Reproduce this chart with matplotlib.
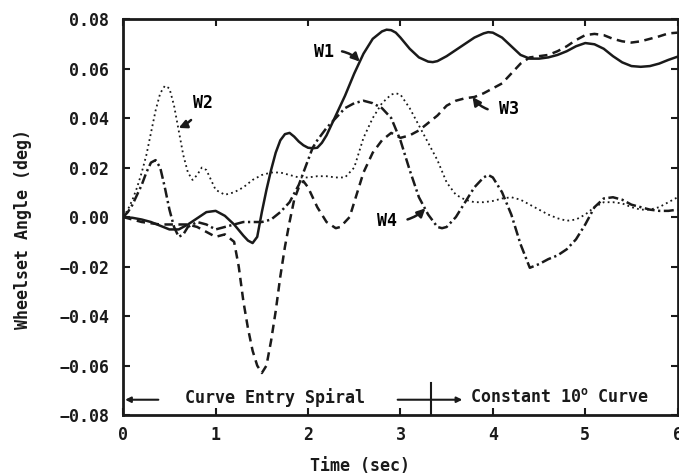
import numpy as np
import matplotlib
matplotlib.use("Agg")
import matplotlib.pyplot as plt

plt.rcParams['font.family'] = ['DejaVu Sans Mono']
plt.rcParams['font.weight'] = 'bold'
plt.rcParams['axes.labelweight'] = 'bold'
plt.rcParams['mathtext.fontset'] = 'custom'
plt.rcParams['mathtext.rm'] = 'DejaVu Sans Mono:bold'

# ---- data (time in sec, angle in deg) ----
t_w1 = [0, 0.1, 0.2, 0.3, 0.4, 0.5, 0.6, 0.7, 0.8, 0.9, 1.0, 1.1, 1.2, 1.3, 1.35,
        1.4, 1.45, 1.5, 1.55, 1.6, 1.65, 1.7, 1.75, 1.8, 1.85, 1.9, 1.95, 2.0, 2.05,
        2.1, 2.15, 2.2, 2.3, 2.4, 2.5, 2.6, 2.7, 2.8, 2.85, 2.9, 2.95, 3.0, 3.1, 3.2,
        3.3, 3.35, 3.4, 3.5, 3.6, 3.7, 3.8, 3.9, 3.95, 4.0, 4.1, 4.2, 4.3, 4.4, 4.5,
        4.6, 4.7, 4.8, 4.9, 5.0, 5.1, 5.2, 5.3, 5.4, 5.5, 5.6, 5.7, 5.8, 5.9, 6.0]
w1 = [0, -0.0003, -0.001, -0.002, -0.0035, -0.005, -0.005, -0.003, -0.0005, 0.002,
      0.0025, 0.0005, -0.003, -0.0075, -0.0095, -0.0105, -0.008, 0.002, 0.011, 0.019,
      0.026, 0.031, 0.0335, 0.034, 0.0325, 0.0305, 0.029, 0.028, 0.0278, 0.028, 0.030,
      0.033, 0.041, 0.049, 0.058, 0.066, 0.072, 0.075, 0.0757, 0.0755, 0.0745, 0.0725,
      0.068, 0.0645, 0.0628, 0.0626, 0.063, 0.065, 0.0675, 0.070, 0.0725, 0.0742,
      0.0747, 0.0745, 0.0725, 0.069, 0.0655, 0.064, 0.064, 0.0645, 0.0655, 0.067,
      0.069, 0.0703, 0.0698, 0.068, 0.065, 0.0625, 0.061, 0.0607, 0.061, 0.062,
      0.0635, 0.0648]

t_w2 = [0, 0.05, 0.1, 0.15, 0.2, 0.25, 0.3, 0.35, 0.4, 0.45, 0.5, 0.55, 0.6, 0.65,
        0.7, 0.75, 0.8, 0.85, 0.9, 0.95, 1.0, 1.1, 1.2, 1.3, 1.4, 1.5, 1.6, 1.7, 1.8,
        1.9, 2.0, 2.1, 2.2, 2.3, 2.4, 2.5, 2.6, 2.7, 2.8, 2.9, 2.95, 3.0, 3.1, 3.2,
        3.3, 3.4, 3.5, 3.6, 3.7, 3.8, 3.9, 4.0, 4.1, 4.2, 4.3, 4.4, 4.5, 4.6, 4.7,
        4.8, 4.9, 5.0, 5.1, 5.2, 5.3, 5.4, 5.5, 5.6, 5.7, 5.8, 5.9, 6.0]
w2 = [0, 0.003, 0.007, 0.012, 0.018, 0.025, 0.034, 0.043, 0.050, 0.053, 0.052,
      0.045, 0.035, 0.025, 0.018, 0.015, 0.017, 0.020, 0.019, 0.015, 0.011, 0.009,
      0.010, 0.012, 0.015, 0.017, 0.018, 0.018, 0.017, 0.016, 0.016, 0.0165, 0.0165,
      0.016, 0.016, 0.020, 0.032, 0.040, 0.046, 0.0495, 0.050, 0.0495, 0.044, 0.037,
      0.030, 0.023, 0.014, 0.009, 0.007, 0.006, 0.006, 0.0065, 0.0075, 0.008, 0.007,
      0.005, 0.003, 0.001, -0.0005, -0.0015, -0.001, 0.001, 0.004, 0.006, 0.006,
      0.0055, 0.004, 0.003, 0.003, 0.004, 0.006, 0.008]

t_w3 = [0, 0.1, 0.2, 0.3, 0.4, 0.5, 0.6, 0.7, 0.8, 0.9, 1.0, 1.1, 1.2, 1.25, 1.3,
        1.35, 1.4, 1.45, 1.5, 1.55, 1.6, 1.65, 1.7, 1.75, 1.8, 1.85, 1.9, 1.95, 2.0,
        2.05, 2.1, 2.2, 2.3, 2.35, 2.4, 2.45, 2.5, 2.6, 2.7, 2.8, 2.9, 3.0, 3.1, 3.2,
        3.3, 3.4, 3.5, 3.6, 3.7, 3.8, 3.9, 4.0, 4.1, 4.2, 4.3, 4.4, 4.5, 4.6, 4.7,
        4.8, 4.9, 5.0, 5.1, 5.2, 5.3, 5.4, 5.5, 5.6, 5.7, 5.8, 5.9, 6.0]
w3 = [0, -0.001, -0.002, -0.0025, -0.003, -0.003, -0.003, -0.003, -0.004, -0.006,
      -0.008, -0.007, -0.010, -0.020, -0.034, -0.045, -0.054, -0.060, -0.063, -0.060,
      -0.050, -0.038, -0.024, -0.012, -0.002, 0.007, 0.012, 0.0145, 0.012, 0.008,
      0.004, -0.002, -0.0045, -0.004, -0.002, 0.0, 0.006, 0.018, 0.026, 0.031, 0.034,
      0.032, 0.033, 0.035, 0.038, 0.041, 0.045, 0.047, 0.048, 0.0485, 0.050, 0.052,
      0.054, 0.058, 0.062, 0.0645, 0.065, 0.0655, 0.067, 0.069, 0.0715, 0.0735,
      0.074, 0.0735, 0.072, 0.071, 0.0705, 0.071, 0.072, 0.073, 0.0742, 0.0745]

t_w4 = [0, 0.05, 0.1, 0.15, 0.2, 0.25, 0.3, 0.35, 0.4, 0.45, 0.5, 0.55, 0.6, 0.65,
        0.7, 0.8, 0.9, 1.0, 1.1, 1.2, 1.3, 1.4, 1.5, 1.6, 1.7, 1.8, 1.9, 2.0, 2.05,
        2.1, 2.2, 2.3, 2.4, 2.5, 2.6, 2.7, 2.8, 2.9, 3.0, 3.1, 3.2, 3.3, 3.4, 3.45,
        3.5, 3.6, 3.7, 3.8, 3.9, 3.95, 4.0, 4.1, 4.2, 4.3, 4.4, 4.5, 4.6, 4.7, 4.8,
        4.9, 5.0, 5.1, 5.2, 5.3, 5.4, 5.5, 5.6, 5.7, 5.8, 5.9, 6.0]
w4 = [0, 0.002, 0.005, 0.009, 0.013, 0.018, 0.022, 0.023, 0.020, 0.012, 0.003,
      -0.004, -0.008, -0.007, -0.004, -0.002, -0.003, -0.005, -0.004, -0.003, -0.002,
      -0.002, -0.002, -0.001, 0.002, 0.006, 0.013, 0.023, 0.028, 0.031, 0.036, 0.040,
      0.044, 0.046, 0.047, 0.046, 0.044, 0.040, 0.031, 0.019, 0.008, 0.001, -0.004,
      -0.0045, -0.004, 0.0, 0.006, 0.012, 0.016, 0.017, 0.016, 0.010, 0.001, -0.011,
      -0.0205, -0.019, -0.017, -0.0155, -0.013, -0.009, -0.003, 0.004, 0.0075, 0.008,
      0.007, 0.005, 0.004, 0.003, 0.0025, 0.0025, 0.003]

x_ticks = [0, 1, 2, 3, 4, 5, 6]
y_ticks = [-0.08, -0.06, -0.04, -0.02, 0.00, 0.02, 0.04, 0.06, 0.08]
spiral_end = 3.33

# ---- figure ----
fig = plt.figure(figsize=(6.79, 4.76), dpi=100)
ax = fig.add_axes([0.1815, 0.128, 0.8165, 0.832])

ax.plot(t_w1, w1, color='#1a1a1a', lw=1.8, solid_joinstyle='round')
ax.plot(t_w2, w2, color='#1a1a1a', lw=1.3, linestyle=(0, (1.0, 1.8)))
ax.plot(t_w3, w3, color='#1a1a1a', lw=1.8, linestyle=(0, (3.4, 2.2)))
ax.plot(t_w4, w4, color='#1a1a1a', lw=1.8, linestyle=(0, (4.0, 1.4, 0.9, 1.4)))

ax.set_xlim(0, 6)
ax.set_ylim(-0.08, 0.08)
ax.set_xticks(x_ticks)
ax.set_yticks(y_ticks)
ax.set_yticklabels([f"{v:.2f}".replace('-', '\u2212') for v in y_ticks])
ax.tick_params(direction='in', top=True, right=True, length=5, width=1.5,
               labelsize=12, colors='#1a1a1a')
ax.tick_params(axis='x', pad=8)
ax.tick_params(axis='y', pad=10)
for s in ax.spines.values():
    s.set_linewidth(2.0)
    s.set_color('#1a1a1a')

ax.set_ylabel("Wheelset Angle (deg)", fontsize=12, color='#1a1a1a')
ax.yaxis.set_label_coords(-0.165, 0.47)
ax.set_xlabel("Time (sec)", fontsize=12, color='#1a1a1a')
ax.xaxis.set_label_coords(0.427, -0.105)

# curve labels with curved arrows
arw = dict(arrowstyle='-|>', color='#1a1a1a', lw=1.8, mutation_scale=12)
ax.annotate("W1", xy=(2.56, 0.0628), xytext=(2.17, 0.0665), fontsize=12,
            ha='center', va='center',
            arrowprops=dict(arw, connectionstyle="arc3,rad=-0.3", shrinkA=4, shrinkB=0))
ax.annotate("W2", xy=(0.6, 0.036), xytext=(0.86, 0.046), fontsize=12,
            ha='center', va='center',
            arrowprops=dict(arw, connectionstyle="arc3,rad=-0.2", shrinkA=5, shrinkB=0))
ax.annotate("W3", xy=(3.78, 0.0485), xytext=(4.17, 0.0435), fontsize=12,
            ha='center', va='center',
            arrowprops=dict(arw, connectionstyle="arc3,rad=-0.35", shrinkA=6, shrinkB=0))
ax.annotate("W4", xy=(3.27, 0.0035), xytext=(2.85, -0.0015), fontsize=12,
            ha='center', va='center',
            arrowprops=dict(arw, connectionstyle="arc3,rad=0.25", shrinkA=6, shrinkB=0))

# spiral / constant curve markers at the bottom
ax.annotate("", xy=(0.02, -0.0738), xytext=(0.38, -0.0738),
            arrowprops=dict(arrowstyle='-|>', color='#1a1a1a', lw=1.5,
                            mutation_scale=8, shrinkA=0, shrinkB=0))
ax.text(1.64, -0.0728, "Curve Entry Spiral", fontsize=12, ha='center', va='center',
        color='#1a1a1a')
ax.annotate("", xy=(3.67, -0.0738), xytext=(2.97, -0.0738),
            arrowprops=dict(arrowstyle='-|>', color='#1a1a1a', lw=1.5,
                            mutation_scale=8, shrinkA=0, shrinkB=0))
ax.plot([spiral_end, spiral_end], [-0.067, -0.08], color='#1a1a1a', lw=1.5)
ax.text(3.75, -0.0728, "Constant 10$^{\\rm o}$ Curve", fontsize=12, ha='left',
        va='center', color='#1a1a1a')

fig.savefig("out.png", dpi=100)
